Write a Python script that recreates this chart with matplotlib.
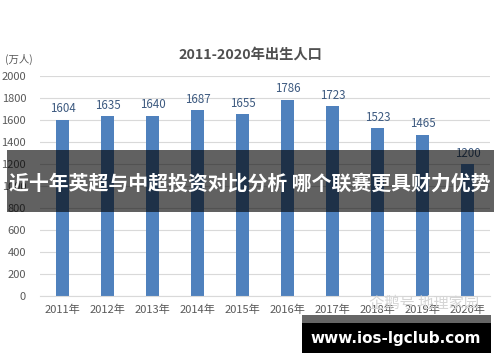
import matplotlib
matplotlib.use("Agg")
import matplotlib.pyplot as plt
from matplotlib.patches import Rectangle

plt.rcParams['font.family'] = ['Noto Sans CJK SC', 'DejaVu Sans']

# Data
years = ["2011年", "2012年", "2013年", "2014年", "2015年",
         "2016年", "2017年", "2018年", "2019年", "2020年"]
births = [1604, 1635, 1640, 1687, 1655, 1786, 1723, 1523, 1465, 1200]
y_ticks = [0, 200, 400, 600, 800, 1000, 1200, 1400, 1600, 1800, 2000]

title = "2011-2020年出生人口"
unit = "(万人)"
banner_text = "近十年英超与中超投资对比分析 哪个联赛更具财力优势"
site_text = "www.ios-lgclub.com"
watermark = "企鹅号 地理家园"

W, H = 500, 362
fig = plt.figure(figsize=(W / 100, H / 100), dpi=100)
ax = fig.add_axes([40 / W, 1 - 296 / H, 450 / W, 220 / H])

x = range(len(years))
ax.bar(x, births, width=0.31, color="#4f81bd", zorder=2)
for xi, v in zip(x, births):
    ax.text(xi, v + 40, str(v), ha="center", va="bottom",
            fontsize=8.3, color="#3d5a80")

ax.set_xlim(-0.5, len(years) - 0.5)
ax.set_ylim(0, 2000)
ax.set_yticks(y_ticks)
ax.set_xticks(list(x))
ax.set_xticklabels(years)
ax.tick_params(axis="both", length=0, labelsize=8, colors="#595959")
ax.tick_params(axis="y", pad=10)
ax.tick_params(axis="x", pad=6)
ax.grid(axis="y", color="#d9d9d9", linewidth=0.8, zorder=0)
for s in ["top", "right", "left"]:
    ax.spines[s].set_visible(False)
ax.spines["bottom"].set_color("#d9d9d9")

fig.text(250 / W, 1 - 55 / H, title, ha="center", va="center",
         fontsize=10.3, fontweight="bold", color="#505050")
fig.text(5 / W, 1 - 59 / H, unit, ha="left", va="center",
         fontsize=7.5, color="#595959")

# watermark
fig.text(424 / W, 1 - 303 / H, watermark, ha="center", va="center",
         fontsize=11, color="#d5d5d5", zorder=1)

# overlay banner
fig.patches.append(Rectangle((7 / W, 1 - 212 / H), 487 / W, 62 / H,
                             transform=fig.transFigure, facecolor="black",
                             alpha=0.62, zorder=5))
fig.text(250 / W, 1 - 183 / H, banner_text, ha="center", va="center",
         fontsize=14.3, fontweight="bold", color="white", zorder=6)

# bottom site banner
fig.patches.append(Rectangle((302 / W, 1 - 323 / H), 189 / W, 8 / H,
                             transform=fig.transFigure, facecolor="#666666",
                             zorder=5))
fig.patches.append(Rectangle((302 / W, 1 - 353 / H), 189 / W, 30 / H,
                             transform=fig.transFigure, facecolor="black",
                             zorder=5))
fig.text(396 / W, 1 - 338 / H, site_text, ha="center", va="center",
         fontsize=11, fontweight="bold", color="white", zorder=6,
         family="DejaVu Sans")

fig.savefig("out.png", dpi=100)
